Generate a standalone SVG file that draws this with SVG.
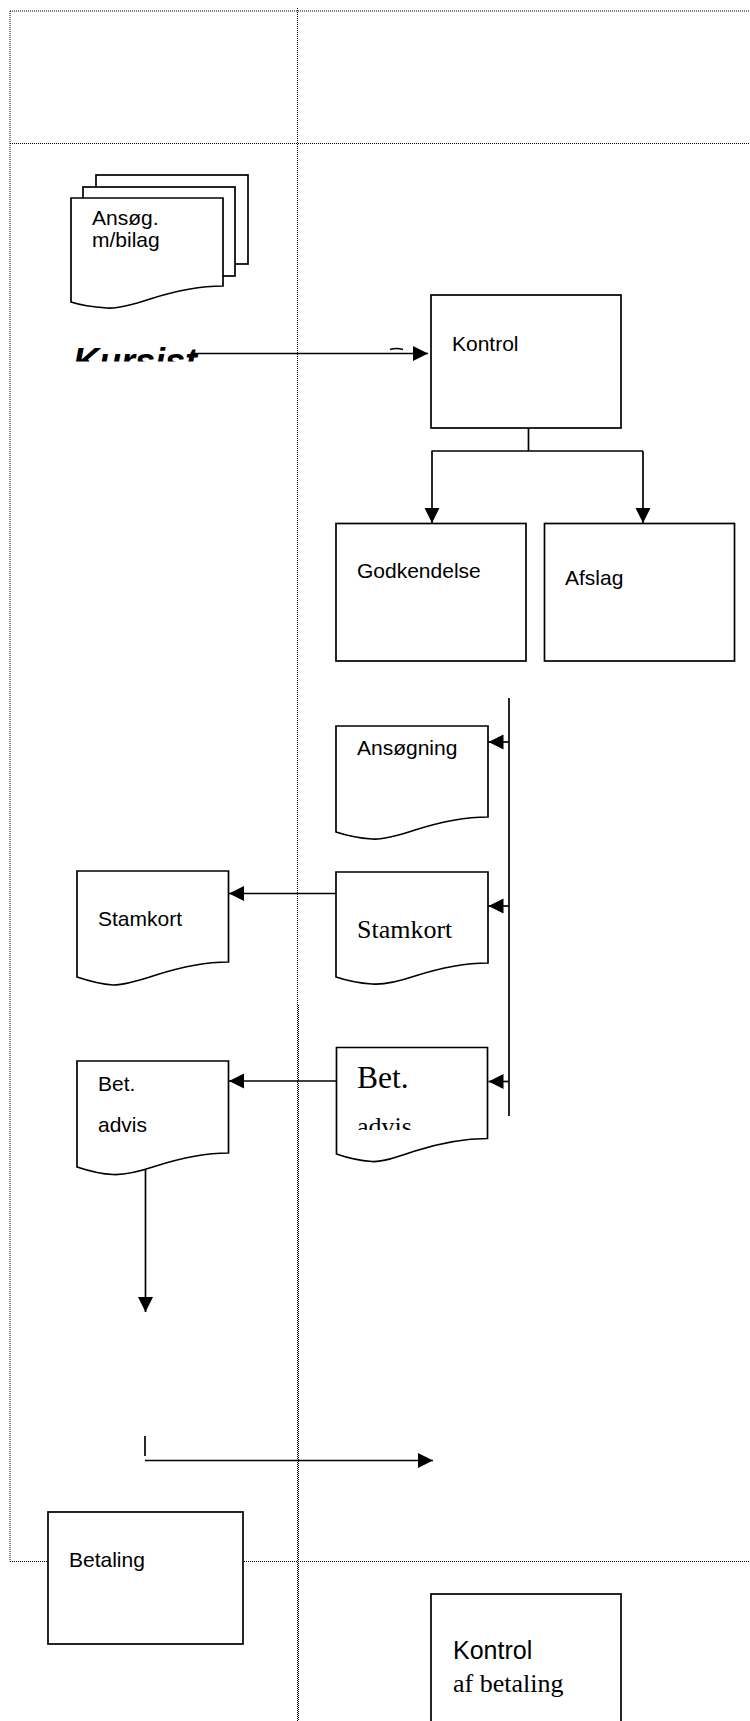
<svg xmlns="http://www.w3.org/2000/svg" width="750" height="1721" viewBox="0 0 750 1721">
  <style>
    .lane { fill: none; stroke: #000; stroke-width: 1; stroke-dasharray: 1 1; }
    .box { fill: #fff; stroke: #000; stroke-width: 1.7; }
    .sheet { fill: #fff; stroke: #000; stroke-width: 1.7; }
    .wire { fill: none; stroke: #000; stroke-width: 1.7; }
    .arrow { fill: none; stroke: #000; stroke-width: 1.7; marker-end: url(#head); }
    .sans { font-family: "Liberation Sans", Arial, sans-serif; font-size: 21px; fill: #000; }
    .serif { font-family: "Liberation Serif", "Times New Roman", serif; font-size: 26px; fill: #000; }
    .big { font-size: 31.5px; }
    .mid { font-size: 25px; }
    .title { font-family: "Liberation Sans", Arial, sans-serif; font-size: 36px; font-weight: bold; font-style: italic; fill: #000; }
  </style>
  <defs>
    <marker id="head" markerUnits="userSpaceOnUse" markerWidth="16" markerHeight="16" refX="15" refY="7.5" orient="auto">
      <path d="M0,0 L15,7.5 L0,15 Z" fill="#000"/>
    </marker>
    <clipPath id="clipTitle"><rect x="0" y="300" width="430" height="61.5"/></clipPath>
    <clipPath id="clipAdvis"><rect x="340" y="1100" width="140" height="30"/></clipPath>
  </defs>
  <rect width="750" height="1721" fill="#fff"/>

  <!-- swimlane grid -->
  <g id="lanes">
    <line class="lane" x1="10" y1="11" x2="750" y2="11"/>
    <line class="lane" x1="10" y1="143.5" x2="750" y2="143.5"/>
    <line class="lane" x1="10" y1="1561.5" x2="750" y2="1561.5"/>
    <line class="lane" x1="10" y1="11" x2="10" y2="1561.5"/>
    <line class="lane" x1="297.5" y1="8" x2="297.5" y2="1721"/>
    <line class="lane" x1="298.5" y1="1005" x2="298.5" y2="1721"/>
  </g>

  <!-- lane title -->
  <g id="kursist">
    <text class="title" x="73" y="374" clip-path="url(#clipTitle)">Kursist</text>
    <path class="wire" d="M390,349.5 Q396.5,347.5 403,349.5" stroke-width="2"/>
  </g>

  <!-- connectors -->
  <g id="connectors">
    <path class="arrow" d="M192,353.5 H428"/>
    <path class="wire" d="M528.5,428 V451 M431.5,451 H643"/>
    <path class="arrow" d="M432,451 V523"/>
    <path class="arrow" d="M643,451 V523"/>
    <path class="wire" d="M509,698 V1116"/>
    <path class="arrow" d="M509,742 H488.5"/>
    <path class="arrow" d="M509,906 H488.5"/>
    <path class="arrow" d="M509,1081.5 H488.5"/>
    <path class="arrow" d="M336.5,893.5 H229"/>
    <path class="arrow" d="M336.5,1081 H229"/>
    <path class="arrow" d="M145.5,1168 V1312"/>
    <path class="wire" d="M145,1436 V1456"/>
    <path class="arrow" d="M145,1460.5 H433"/>
  </g>

  <!-- application bundle (multi-document) -->
  <g id="ansog-bilag">
    <rect class="sheet" x="96" y="175" width="152" height="89"/>
    <rect class="sheet" x="83" y="187" width="152" height="89"/>
    <path class="sheet" d="M71,198 H223 V286 C196,286 172,292 150,299 C132,305 118,309 107,308 C92,307 80,305 71,302 Z"/>
    <text class="sans" x="92" y="225">Ansøg.</text>
    <text class="sans" x="92" y="247">m/bilag</text>
  </g>

  <g id="kontrol">
    <rect class="box" x="431" y="295" width="190" height="133"/>
    <text class="sans" x="452" y="351">Kontrol</text>
  </g>

  <g id="godkendelse">
    <rect class="box" x="336" y="523.5" width="190" height="137.5"/>
    <text class="sans" x="357" y="578">Godkendelse</text>
  </g>

  <g id="afslag">
    <rect class="box" x="544.5" y="523.5" width="190" height="137.5"/>
    <text class="sans" x="565" y="585">Afslag</text>
  </g>

  <g id="ansogning">
    <path class="sheet" d="M336,726 H488 V817 C461,817 437,823 415,830 C397,836 383,840 372,839 C357,838 345,835 336,832 Z"/>
    <text class="sans" x="357" y="755">Ansøgning</text>
  </g>

  <g id="stamkort-copy">
    <path class="sheet" d="M336,872 H488 V963 C461,963 437,969 415,976 C397,982 383,985 372,984 C357,983 345,980 336,977 Z"/>
    <text class="serif" x="357" y="938">Stamkort</text>
  </g>

  <g id="betadvis-copy">
    <path class="sheet" d="M336.5,1047.5 H487.5 V1138.5 C461,1138.5 437,1144 415,1151 C397,1157 383,1162 372,1161.5 C357,1160.5 345,1157 336.5,1154 Z"/>
    <text class="serif big" x="357" y="1088">Bet.</text>
    <text class="serif" x="357" y="1135" clip-path="url(#clipAdvis)">advis</text>
  </g>

  <g id="stamkort">
    <path class="sheet" d="M77,871 H228.5 V962 C202,962 178,968 156,975 C138,981 124,985 113,985 C98,984 86,980 77,977 Z"/>
    <text class="sans" x="98" y="926">Stamkort</text>
  </g>

  <g id="betadvis">
    <path class="sheet" d="M77,1061 H228.5 V1153 C202,1153 178,1159 156,1166 C138,1172 124,1175 113,1174.5 C98,1174 86,1170 77,1167 Z"/>
    <text class="sans" x="98" y="1091">Bet.</text>
    <text class="sans" x="98" y="1132">advis</text>
  </g>

  <g id="betaling">
    <rect class="box" x="48" y="1512" width="195" height="132"/>
    <text class="sans" x="69" y="1567">Betaling</text>
  </g>

  <g id="kontrol-betaling">
    <rect class="box" x="431" y="1594" width="190" height="160"/>
    <text class="sans mid" x="453" y="1659">Kontrol</text>
    <text class="serif" x="453" y="1692">af betaling</text>
  </g>
</svg>
